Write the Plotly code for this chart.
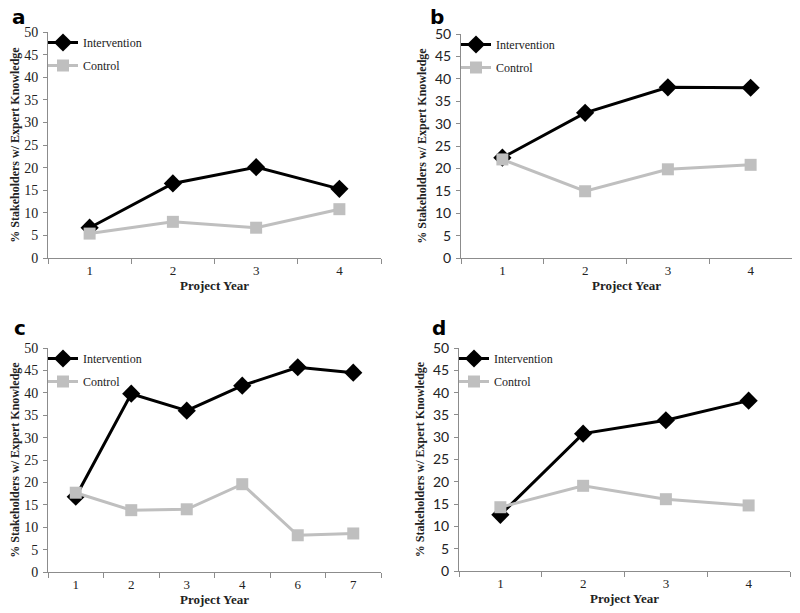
import plotly.graph_objects as go

# Panel data: % of stakeholders with expert knowledge by project year
years_a = ["1", "2", "3", "4"]
interv_a = [6.7, 16.5, 20.1, 15.3]
control_a = [5.4, 8.0, 6.7, 10.8]

years_b = ["1", "2", "3", "4"]
interv_b = [22.4, 32.4, 38.1, 38.0]
control_b = [22.0, 14.9, 19.8, 20.8]

years_c = ["1", "2", "3", "4", "6", "7"]
interv_c = [16.8, 39.8, 36.0, 41.6, 45.7, 44.5]
control_c = [17.7, 13.8, 14.0, 19.6, 8.2, 8.6]

years_d = ["1", "2", "3", "4"]
interv_d = [12.6, 30.8, 33.8, 38.2]
control_d = [14.3, 19.1, 16.1, 14.7]

panels = [
    ("a", years_a, interv_a, control_a),
    ("b", years_b, interv_b, control_b),
    ("c", years_c, interv_c, control_c),
    ("d", years_d, interv_d, control_d),
]

# the page body has an 8px margin, so the figure is shrunk and shifted by it
OFF = 8
W, H = 800 - OFF, 613 - OFF
SERIF = "Liberation Serif, Times New Roman, serif"
SANS = "Lato, Open Sans, sans-serif"
GRAY = "#bfbfbf"
AXIS = "#8c8c8c"


def px(x):
    return (x - OFF) / W


def py(y):
    return 1 - (y - OFF) / H


# window-pixel boxes of each plot area: (left, right, top, bottom), y tick font
boxes = {
    "a": (48, 381, 32, 258, SERIF, 14),
    "b": (461, 792, 34, 258, SANS, 14),
    "c": (48, 381, 348, 572, SERIF, 14),
    "d": (459, 790, 348, 571, SANS, 14),
}
letter_pos = {"a": (10, 17), "b": (428, 17), "c": (12, 328), "d": (430, 328)}

fig = go.Figure()
layout = {}
annotations = []

for i, (key, years, interv, control) in enumerate(panels):
    n = "" if i == 0 else str(i + 1)
    lg = "legend" if i == 0 else f"legend{i + 1}"
    fig.add_trace(
        go.Scatter(
            x=years, y=interv, name="Intervention", mode="lines+markers",
            line=dict(color="black", width=3),
            marker=dict(symbol="diamond", size=14, color="black"),
            xaxis="x" + n, yaxis="y" + n, legend=lg, legendgroup=key + "i",
        )
    )
    fig.add_trace(
        go.Scatter(
            x=years, y=control, name="Control", mode="lines+markers",
            line=dict(color=GRAY, width=3),
            marker=dict(symbol="square", size=12, color=GRAY),
            xaxis="x" + n, yaxis="y" + n, legend=lg, legendgroup=key + "c",
        )
    )

    l, r, t, b, tfont, tsize = boxes[key]
    layout["xaxis" + n] = dict(
        domain=[px(l), px(r)], anchor="y" + n, type="category",
        range=[-0.5, len(years) - 0.5],
        showline=True, linecolor=AXIS, linewidth=1, showgrid=False,
        ticks="outside", tickson="boundaries", ticklen=5, tickcolor=AXIS,
        tickfont=dict(family=SERIF, size=13, color="#222"),
        title=dict(text="<b>Project Year</b>", font=dict(family=SERIF, size=13, color="#222"), standoff=4),
        zeroline=False, automargin=False,
    )
    layout["yaxis" + n] = dict(
        domain=[py(b), py(t)], anchor="x" + n, range=[0, 50],
        tickvals=list(range(0, 51, 5)),
        showline=True, linecolor=AXIS, linewidth=1, showgrid=False,
        ticks="outside", ticklen=4, tickcolor=AXIS, ticklabelstandoff=2,
        tickfont=dict(family=tfont, size=tsize, color="#222"),
        title=dict(text="<b>% Stakeholders w/ Expert Knowledge</b>",
                   font=dict(family=SERIF, size=12, color="#222"), standoff=5),
        zeroline=False, automargin=False,
    )
    layout[lg] = dict(
        x=px(l - 5), y=py(t - 4), xanchor="left", yanchor="top",
        bgcolor="rgba(0,0,0,0)", font=dict(family=SERIF, size=12, color="#222"),
        itemwidth=30, traceorder="grouped", tracegroupgap=4,
    )
    lx, ly = letter_pos[key]
    annotations.append(dict(
        text=f"<b>{key}</b>", x=px(lx), y=py(ly), xref="paper", yref="paper",
        xanchor="left", yanchor="middle", showarrow=False,
        font=dict(family="DejaVu Sans, Arial, sans-serif", size=20, color="black"),
    ))

fig.update_layout(
    **layout,
    annotations=annotations,
    width=W, height=H,
    margin=dict(l=0, r=0, t=0, b=0, autoexpand=False),
    paper_bgcolor="white", plot_bgcolor="white",
    showlegend=True,
)

fig.write_html("out.html")
